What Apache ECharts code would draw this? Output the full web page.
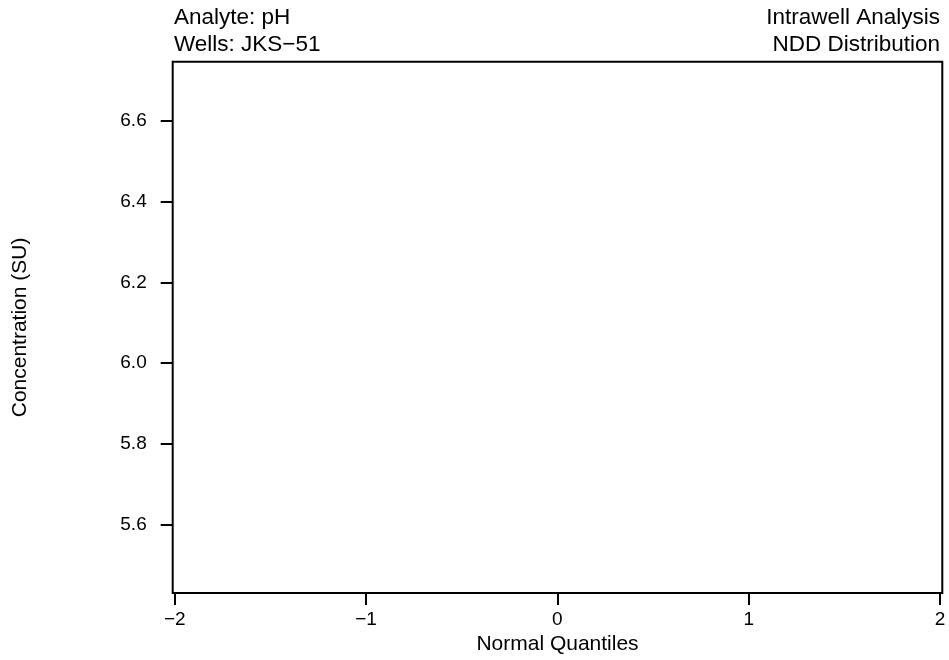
<!DOCTYPE html>
<html>
<head>
<meta charset="utf-8">
<script src="https://cdn.jsdelivr.net/npm/echarts@6/dist/echarts.min.js"></script>
<style>
  html, body { margin: 0; padding: 0; background: #fff; }
  #chart { width: 949px; height: 660px; }
</style>
</head>
<body>
<div id="chart"></div>
<script>
// axis ranges and tick positions
const xRange = [-2.011, 2.012];
const yRange = [5.4314, 6.7457];
const xTicks = [-2, -1, 0, 1, 2];
const yTicks = [5.6, 5.8, 6.0, 6.2, 6.4, 6.6];

// no observations plotted for this well
const qqPoints = [];

// header text
const headerLeft = ['Analyte: pH', 'Wells: JKS\u221251'];
const headerRight = ['Intrawell Analysis', 'NDD Distribution'];

const FONT = '"Liberation Sans", Arial, Helvetica, sans-serif';

const chart = echarts.init(document.getElementById('chart'));

const headerText = (txt, x, y, align) => ({
  type: 'text',
  x: x,
  y: y,
  style: {
    text: txt,
    font: '22.5px ' + FONT,
    fill: '#000',
    textAlign: align,
    textVerticalAlign: 'middle'
  }
});

const option = {
  animation: false,
  backgroundColor: '#fff',
  grid: {
    left: 172.7,
    right: 6.7,
    top: 61.7,
    bottom: 66,
    show: true,
    borderColor: '#000',
    borderWidth: 2,
    backgroundColor: 'transparent'
  },
  xAxis: {
    type: 'value',
    min: xRange[0],
    max: xRange[1],
    name: 'Normal Quantiles',
    nameLocation: 'middle',
    nameGap: 40,
    nameTextStyle: { fontFamily: FONT, fontSize: 21, color: '#000' },
    axisLine: { show: false, onZero: false },
    splitLine: { show: false },
    axisTick: {
      show: true,
      inside: false,
      length: 12,
      customValues: xTicks,
      lineStyle: { color: '#000', width: 2 }
    },
    axisLabel: {
      customValues: xTicks,
      margin: 17,
      fontFamily: FONT,
      fontSize: 19,
      color: '#000',
      formatter: v => (v < 0 ? '\u2212' + Math.abs(v) : String(v))
    }
  },
  yAxis: {
    type: 'value',
    min: yRange[0],
    max: yRange[1],
    name: 'Concentration (SU)',
    nameLocation: 'middle',
    nameRotate: 90,
    nameGap: 142,
    nameTextStyle: { fontFamily: FONT, fontSize: 21, color: '#000' },
    axisLine: { show: false, onZero: false },
    splitLine: { show: false },
    axisTick: {
      show: true,
      inside: false,
      length: 12,
      customValues: yTicks,
      lineStyle: { color: '#000', width: 2 }
    },
    axisLabel: {
      customValues: yTicks,
      margin: 26,
      fontFamily: FONT,
      fontSize: 19,
      color: '#000',
      formatter: v => v.toFixed(1)
    }
  },
  series: [
    {
      type: 'scatter',
      data: qqPoints,
      symbol: 'circle',
      symbolSize: 8,
      itemStyle: { color: '#000' }
    }
  ],
  graphic: [
    headerText(headerLeft[0], 174, 18, 'left'),
    headerText(headerLeft[1], 174, 45, 'left'),
    headerText(headerRight[0], 940, 18, 'right'),
    headerText(headerRight[1], 940, 45, 'right')
  ]
};

chart.setOption(option);
</script>
</body>
</html>
